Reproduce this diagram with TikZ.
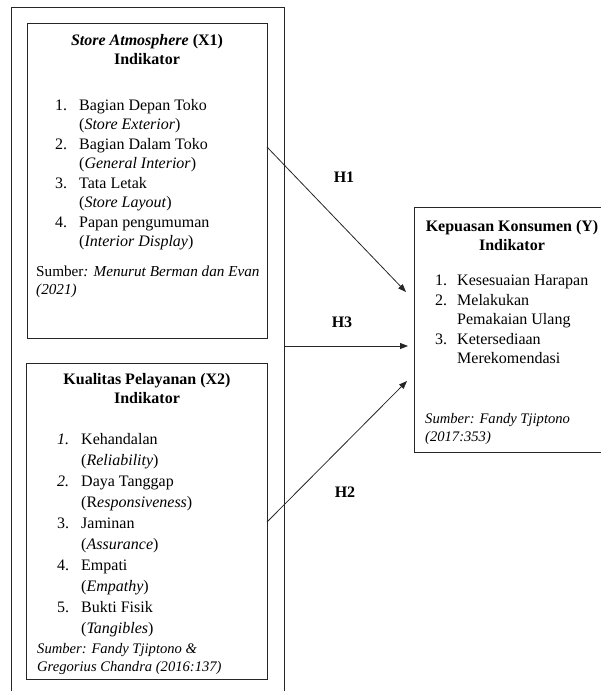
\documentclass[tikz,border=0pt]{standalone}
\usepackage{fontspec}
\setmainfont{Liberation Serif}
\usetikzlibrary{arrows.meta}
\newcommand\numb[1]{\makebox[24pt][l]{#1}}
\newcommand\indt{\hspace*{24pt}}
\begin{document}
\begin{tikzpicture}[x=1pt,y=-1pt,
  box/.style={draw=black!85,line width=0.9pt,inner sep=0pt,anchor=north west},
  frame/.style={draw=black!85,line width=0.9pt},
  txt/.style={inner sep=0pt,anchor=north west,align=left,font=\fontsize{16}{19.5}\selectfont},
  src/.style={inner sep=0pt,anchor=north west,align=left,font=\itshape\fontsize{14.6}{18}\selectfont},
  ttl/.style={inner sep=0pt,anchor=north,align=center,font=\bfseries\fontsize{16}{19.5}\selectfont},
  hyp/.style={-{Triangle[length=8pt,width=6pt]},line width=0.8pt,draw=black!85},
  hl/.style={font=\bfseries\fontsize{16}{19}\selectfont,inner sep=0pt}]
\useasboundingbox (0,0) rectangle (601,691);
% outer frame (open at the bottom)
\draw[frame] (11,691) -- (11,7) -- (284,7) -- (284,691);
% boxes
\node[box,minimum width=240pt,minimum height=315pt] (x1) at (27,23) {};
\node[box,minimum width=241pt,minimum height=316pt] (x2) at (26,363) {};
\node[box,minimum width=190pt,minimum height=245pt] (y) at (414,207) {};
% X1 contents
\node[ttl] (x1t) at (147,34) {\textit{Store Atmosphere} (X1)\\Indikator};
\node[txt] (x1l) at (55,99) {\numb{1.}Bagian Depan Toko\\\indt(\textit{Store Exterior})\\
  \numb{2.}Bagian Dalam Toko\\\indt(\textit{General Interior})\\
  \numb{3.}Tata Letak\\\indt(\textit{Store Layout})\\
  \numb{4.}Papan pengumuman\\\indt(\textit{Interior Display})};
\node[src,font=\fontsize{15.2}{18}\selectfont] (x1s) at (36,266) {Sumber\textit{: Menurut Berman dan Evan}\\\textit{(2021)}};
% X2 contents
\node[ttl] (x2t) at (147,373) {Kualitas Pelayanan (X2)\\Indikator};
\node[txt,font=\fontsize{16}{21}\selectfont] (x2l) at (57,433) {\numb{\textit{1.}}Kehandalan\\\indt(\textit{Reliability})\\
  \numb{\textit{2.}}Daya Tanggap\\\indt(R\textit{esponsiveness})\\
  \numb{3.}Jaminan\\\indt(\textit{Assurance})\\
  \numb{4.}Empati\\\indt(\textit{Empathy})\\
  \numb{5.}Bukti Fisik\\\indt(\textit{Tangibles})};
\node[src] (x2s) at (37,643) {Sumber: Fandy Tjiptono \&\\Gregorius Chandra (2016:137)};
% Y contents
\node[ttl] (yt) at (512,220) {Kepuasan Konsumen (Y)\\Indikator};
\node[txt] (yl) at (435,275) {\makebox[22pt][l]{1.}Kesesuaian Harapan\\
  \makebox[22pt][l]{2.}Melakukan\\\hspace*{22pt}Pemakaian Ulang\\
  \makebox[22pt][l]{3.}Ketersediaan\\\hspace*{22pt}Merekomendasi};
\node[src] (ys) at (425,413) {Sumber: Fandy Tjiptono\\(2017:353)};
% hypotheses
\coordinate (h1s) at (267,147);
\coordinate (h1e) at (406,292);
\coordinate (h3s) at (284,346);
\coordinate (h3e) at (408,346);
\coordinate (h2s) at (267,522);
\coordinate (h2e) at (407,381);
\draw[hyp] (h1s) -- (h1e);
\draw[hyp] (h3s) -- (h3e);
\draw[hyp] (h2s) -- (h2e);
\node[hl] (l1) at (344,177) {H1};
\node[hl] (l3) at (342,322) {H3};
\node[hl] (l2) at (345,492) {H2};
\end{tikzpicture}
\end{document}
